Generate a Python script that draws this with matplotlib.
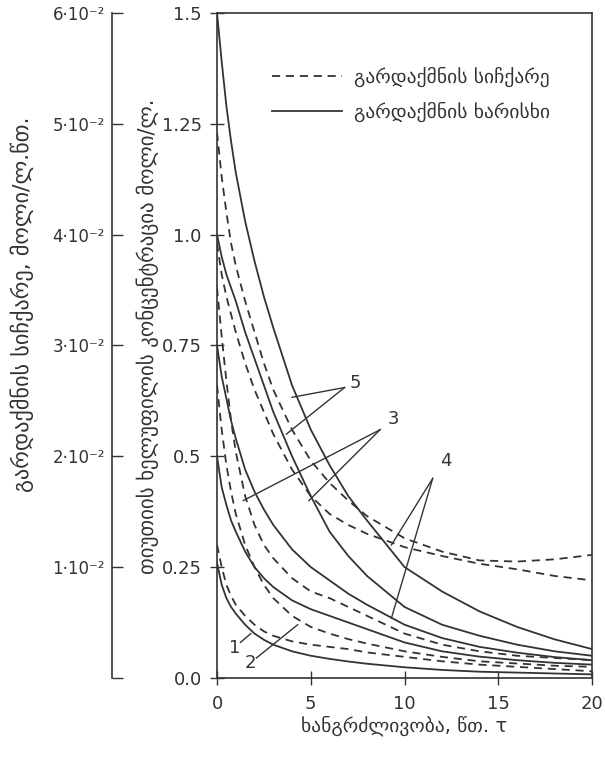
import numpy as np
import matplotlib
matplotlib.use("Agg")
import matplotlib.pyplot as plt
from matplotlib.lines import Line2D

plt.rcParams['font.family'] = ['DejaVu Sans']

INK = '#333333'

# ხანგრძლივობა, წთ.
t = [0, 0.25, 0.5, 0.75, 1, 1.5, 2, 2.5, 3, 4, 5, 6, 7, 8, 10, 12, 14, 16, 18, 20]

# კონცენტრაცია, მოლი/ლ. (უწყვეტი ხაზები)
s5 = [1.5, 1.39, 1.29, 1.21, 1.14, 1.03, 0.94, 0.86, 0.79, 0.66, 0.56, 0.48, 0.41, 0.355,
      0.25, 0.195, 0.15, 0.115, 0.087, 0.065]
s4 = [1.0, 0.95, 0.91, 0.88, 0.85, 0.78, 0.72, 0.66, 0.6, 0.5, 0.41, 0.33, 0.275, 0.23,
      0.16, 0.12, 0.095, 0.075, 0.06, 0.05]
s3 = [0.75, 0.68, 0.63, 0.58, 0.54, 0.47, 0.42, 0.38, 0.345, 0.29, 0.25, 0.22, 0.19, 0.165,
      0.12, 0.09, 0.07, 0.057, 0.047, 0.04]
s2 = [0.5, 0.43, 0.39, 0.355, 0.33, 0.285, 0.25, 0.225, 0.205, 0.175, 0.155, 0.14, 0.125, 0.11,
      0.08, 0.06, 0.048, 0.04, 0.034, 0.03]
s1 = [0.26, 0.21, 0.18, 0.16, 0.145, 0.12, 0.1, 0.086, 0.075, 0.06, 0.05, 0.043, 0.037, 0.032,
      0.024, 0.018, 0.014, 0.012, 0.01, 0.008]

# გარდაქმნის სიჩქარე, 10^-2 მოლი/ლ.წთ. (წყვეტილი ხაზები)
d5 = [4.92, 4.52, 4.2, 3.92, 3.72, 3.4, 3.12, 2.84, 2.6, 2.24, 1.96, 1.76, 1.6, 1.46,
      1.26, 1.14, 1.06, 1.05, 1.07, 1.11]
d4 = [3.92, 3.64, 3.44, 3.28, 3.12, 2.84, 2.6, 2.4, 2.2, 1.88, 1.64, 1.48, 1.38, 1.3,
      1.18, 1.1, 1.03, 0.98, 0.92, 0.88]
d3 = [3.52, 3.08, 2.68, 2.32, 2.04, 1.64, 1.38, 1.2, 1.08, 0.9, 0.78, 0.72, 0.64, 0.56,
      0.4, 0.3, 0.24, 0.2, 0.18, 0.16]
d2 = [2.64, 2.24, 1.92, 1.68, 1.48, 1.2, 1.0, 0.84, 0.72, 0.56, 0.46, 0.4, 0.35, 0.31,
      0.24, 0.19, 0.15, 0.13, 0.11, 0.1]
d1 = [1.2, 1.0, 0.84, 0.74, 0.66, 0.56, 0.48, 0.42, 0.38, 0.33, 0.3, 0.28, 0.26, 0.23,
      0.19, 0.15, 0.12, 0.1, 0.08, 0.06]

conc_ticks = [0, 0.25, 0.5, 0.75, 1.0, 1.25, 1.5]
conc_labels = ['0.0', '0.25', '0.5', '0.75', '1.0', '1.25', '1.5']
rate_ticks = [0, 1, 2, 3, 4, 5, 6]
rate_labels = ['', '1·10⁻²', '2·10⁻²', '3·10⁻²', '4·10⁻²', '5·10⁻²', '6·10⁻²']
time_ticks = [0, 5, 10, 15, 20]

DASH = (0, (4.5, 3.2))

fig = plt.figure(figsize=(6.05, 7.6), dpi=100)
ax = fig.add_axes([0.3587, 0.108, 0.62, 0.875])

for s in [s5, s4, s3, s2, s1]:
    ax.plot(t, s, color=INK, lw=1.3)

ax.set_xlim(0, 20)
ax.set_ylim(0, 1.5)
ax.set_yticks(conc_ticks)
ax.set_yticklabels(conc_labels)
ax.set_xticks(time_ticks)
ax.tick_params(direction='inout', length=10, width=1, colors=INK, labelsize=13, pad=6)
ax.tick_params(axis='x', pad=7)
for sp in ax.spines.values():
    sp.set_color(INK)
    sp.set_linewidth(1.2)

# სიჩქარის ღერძი მარცხნივ
ax2 = ax.twinx()
for d in [d5, d4, d3, d2, d1]:
    ax2.plot(t, np.array(d) * 1e-2, color=INK, lw=1.3, linestyle=DASH)
ax2.set_ylim(0, 0.06)
ax2.yaxis.tick_left()
ax2.spines['left'].set_position(('outward', 75.6))
ax2.spines['left'].set_color(INK)
ax2.spines['left'].set_linewidth(1.2)
for k in ['right', 'top', 'bottom']:
    ax2.spines[k].set_visible(False)
ax2.set_yticks(np.array(rate_ticks) * 1e-2)
ax2.set_yticklabels(rate_labels)
ax2.tick_params(axis='y', direction='in', length=8, width=1, colors=INK, labelsize=12, pad=5)

# ლეგენდა
handles = [Line2D([], [], color=INK, lw=1.3, linestyle=DASH),
           Line2D([], [], color=INK, lw=1.3)]
ax.legend(handles, ['გარდაქმნის სიჩქარე', 'გარდაქმნის ხარისხი'],
          loc='upper left', bbox_to_anchor=(0.1, 0.945), frameon=False,
          fontsize=14, handlelength=3.6, labelspacing=0.75, handletextpad=0.6,
          labelcolor=INK)

# მრუდების ნომრები
def mark(label, txt_xy, join_xy, targets):
    ax.text(txt_xy[0], txt_xy[1], label, fontsize=13, color=INK, ha='center', va='center')
    for tx, ty in targets:
        ax.plot([join_xy[0], tx], [join_xy[1], ty], color=INK, lw=1.0)

mark('5', (7.4, 0.665), (6.8, 0.655), [(4.0, 0.633), (3.7, 0.55)])
mark('3', (9.4, 0.585), (8.7, 0.56), [(1.4, 0.40), (4.9, 0.40)])
mark('4', (12.2, 0.49), (11.5, 0.45), [(9.3, 0.30), (9.3, 0.135)])
mark('1', (0.95, 0.068), (1.25, 0.08), [(1.8, 0.10)])
mark('2', (1.8, 0.034), (2.1, 0.045), [(4.3, 0.12)])

ax.set_xlabel('ხანგრძლივობა, წთ. τ', fontsize=14, color=INK, labelpad=2)
fig.text(0.036, 0.60, 'გარდაქმნის სიჩქარე, მოლი/ლ.წთ.', rotation=90,
         ha='center', va='center', fontsize=16, color=INK)
fig.text(0.245, 0.557, 'თიუთიის ხელუფილის კონცენტრაცია მოლი/ლ.', rotation=90,
         ha='center', va='center', fontsize=15, color=INK)

fig.savefig('out.png', dpi=100)
